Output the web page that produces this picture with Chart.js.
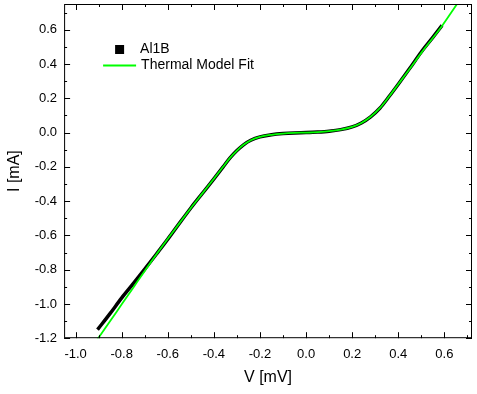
<!DOCTYPE html>
<html>
<head>
<meta charset="utf-8">
<script src="https://cdn.jsdelivr.net/npm/chart.js@4.4.0/dist/chart.umd.min.js"></script>
<style>
  html, body { margin: 0; padding: 0; background: #fff; }
  #wrap { width: 477px; height: 394px; }
</style>
</head>
<body>
<div id="wrap"><canvas id="ivChart" width="477" height="394"></canvas></div>
<script>
// measured I-V curve (Al1B)
const measV = [-0.905, -0.85, -0.80, -0.75, -0.70, -0.65, -0.60, -0.55, -0.50, -0.45, -0.40, -0.36, -0.33, -0.30, -0.27, -0.24, -0.20, -0.15, -0.10, -0.05, 0.00, 0.05, 0.10, 0.15, 0.20, 0.24, 0.28, 0.32, 0.36, 0.40, 0.45, 0.50, 0.55, 0.59]
const measI = [-1.150, -1.055, -0.965, -0.882, -0.797, -0.710, -0.622, -0.530, -0.440, -0.355, -0.270, -0.200, -0.148, -0.105, -0.070, -0.045, -0.025, -0.013, -0.006, -0.002, 0.000, 0.003, 0.008, 0.017, 0.033, 0.056, 0.092, 0.142, 0.210, 0.282, 0.375, 0.470, 0.555, 0.625]

// thermal model fit
const fitV = [-0.91, -0.85, -0.80, -0.75, -0.70, -0.65, -0.60, -0.55, -0.50, -0.45, -0.40, -0.36, -0.33, -0.30, -0.27, -0.24, -0.20, -0.15, -0.10, -0.05, 0.00, 0.05, 0.10, 0.15, 0.20, 0.24, 0.28, 0.32, 0.36, 0.40, 0.45, 0.50, 0.55, 0.59, 0.63, 0.67]
const fitI = [-1.215, -1.100, -1.002, -0.905, -0.808, -0.712, -0.620, -0.530, -0.440, -0.355, -0.270, -0.200, -0.148, -0.105, -0.070, -0.045, -0.025, -0.013, -0.006, -0.002, 0.000, 0.003, 0.008, 0.017, 0.033, 0.056, 0.092, 0.142, 0.210, 0.282, 0.372, 0.465, 0.552, 0.622, 0.700, 0.780]

const xTicks = [-1.0, -0.8, -0.6, -0.4, -0.2, 0.0, 0.2, 0.4, 0.6]
const yTicks = [-1.2, -1.0, -0.8, -0.6, -0.4, -0.2, 0.0, 0.2, 0.4, 0.6]

const toPoints = (xs, ys) => xs.map((v, i) => ({ x: v, y: ys[i] }))

Chart.defaults.font.family = '"Liberation Sans", Arial, sans-serif'
Chart.defaults.color = '#000'

// frame with inward ticks on all four sides
const frameTicks = {
  id: 'frameTicks',
  afterDraw(chart) {
    const { ctx, chartArea: { left, right, top, bottom }, scales: { x, y } } = chart
    ctx.save()
    ctx.strokeStyle = '#000'
    ctx.lineWidth = 1
    ctx.strokeRect(left + 0.5, top + 0.5, right - left - 1, bottom - top - 1)
    ctx.beginPath()
    for (let i = Math.ceil(x.min * 10); i <= Math.floor(x.max * 10); i++) {
      const px = Math.round(x.getPixelForValue(i / 10)) + 0.5
      const len = i % 2 === 0 ? 6 : 3
      ctx.moveTo(px, bottom); ctx.lineTo(px, bottom - len)
      ctx.moveTo(px, top); ctx.lineTo(px, top + len)
    }
    for (let i = Math.ceil(y.min * 10); i <= Math.floor(y.max * 10); i++) {
      const py = Math.round(y.getPixelForValue(i / 10)) + 0.5
      const len = i % 2 === 0 ? 6 : 3
      ctx.moveTo(left, py); ctx.lineTo(left + len, py)
      ctx.moveTo(right, py); ctx.lineTo(right - len, py)
    }
    ctx.stroke()
    ctx.restore()
  }
}

// legend drawn inside the plot, upper left
const insideLegend = {
  id: 'insideLegend',
  afterDraw(chart) {
    const { ctx, chartArea: { left, top } } = chart
    const ds = chart.data.datasets
    ctx.save()
    ctx.font = '14px "Liberation Sans", Arial, sans-serif'
    ctx.textBaseline = 'middle'
    ctx.fillStyle = '#000'
    ctx.fillRect(left + 51, top + 41, 9, 9)
    ctx.fillText(ds[0].label, left + 76, top + 45.5)
    ctx.strokeStyle = ds[1].borderColor
    ctx.lineWidth = 2
    ctx.beginPath()
    ctx.moveTo(left + 39, top + 61.5); ctx.lineTo(left + 72, top + 61.5)
    ctx.stroke()
    ctx.fillText(ds[1].label, left + 77, top + 61.5)
    ctx.restore()
  }
}

new Chart(document.getElementById('ivChart'), {
  type: 'line',
  data: {
    datasets: [
      {
        label: 'Al1B',
        data: toPoints(measV, measI),
        borderColor: '#000',
        backgroundColor: '#000',
        borderWidth: 3.5,
        pointRadius: 0,
        cubicInterpolationMode: 'monotone',
        order: 2
      },
      {
        label: 'Thermal Model Fit',
        data: toPoints(fitV, fitI),
        borderColor: '#00ff00',
        backgroundColor: '#00ff00',
        borderWidth: 1.8,
        pointRadius: 0,
        cubicInterpolationMode: 'monotone',
        order: 1
      }
    ]
  },
  options: {
    responsive: false,
    animation: false,
    layout: { padding: { left: 5, right: 5, top: 4, bottom: 7 } },
    plugins: { legend: { display: false }, tooltip: { enabled: false } },
    scales: {
      x: {
        type: 'linear',
        min: -1.05,
        max: 0.72,
        grid: { display: false, drawTicks: false },
        border: { display: false },
        afterBuildTicks: (axis) => { axis.ticks = xTicks.map(v => ({ value: v })) },
        afterFit: (axis) => { axis.height -= 8 },
        ticks: { padding: 8, font: { size: 13 }, callback: v => v.toFixed(1), maxRotation: 0, autoSkip: false },
        title: { display: true, text: 'V [mV]', font: { size: 16 }, padding: { top: 6, bottom: 0 } }
      },
      y: {
        type: 'linear',
        min: -1.2,
        max: 0.75,
        grid: { display: false, drawTicks: false },
        border: { display: false },
        afterBuildTicks: (axis) => { axis.ticks = yTicks.map(v => ({ value: v })) },
        afterFit: (axis) => { axis.paddingTop = 0; axis.paddingBottom = 0 },
        ticks: { padding: 7, font: { size: 13 }, callback: v => v.toFixed(1), autoSkip: false },
        title: { display: true, text: 'I [mA]', font: { size: 16 }, padding: { top: 0, bottom: 3.5 } }
      }
    }
  },
  plugins: [frameTicks, insideLegend]
})
</script>
</body>
</html>
